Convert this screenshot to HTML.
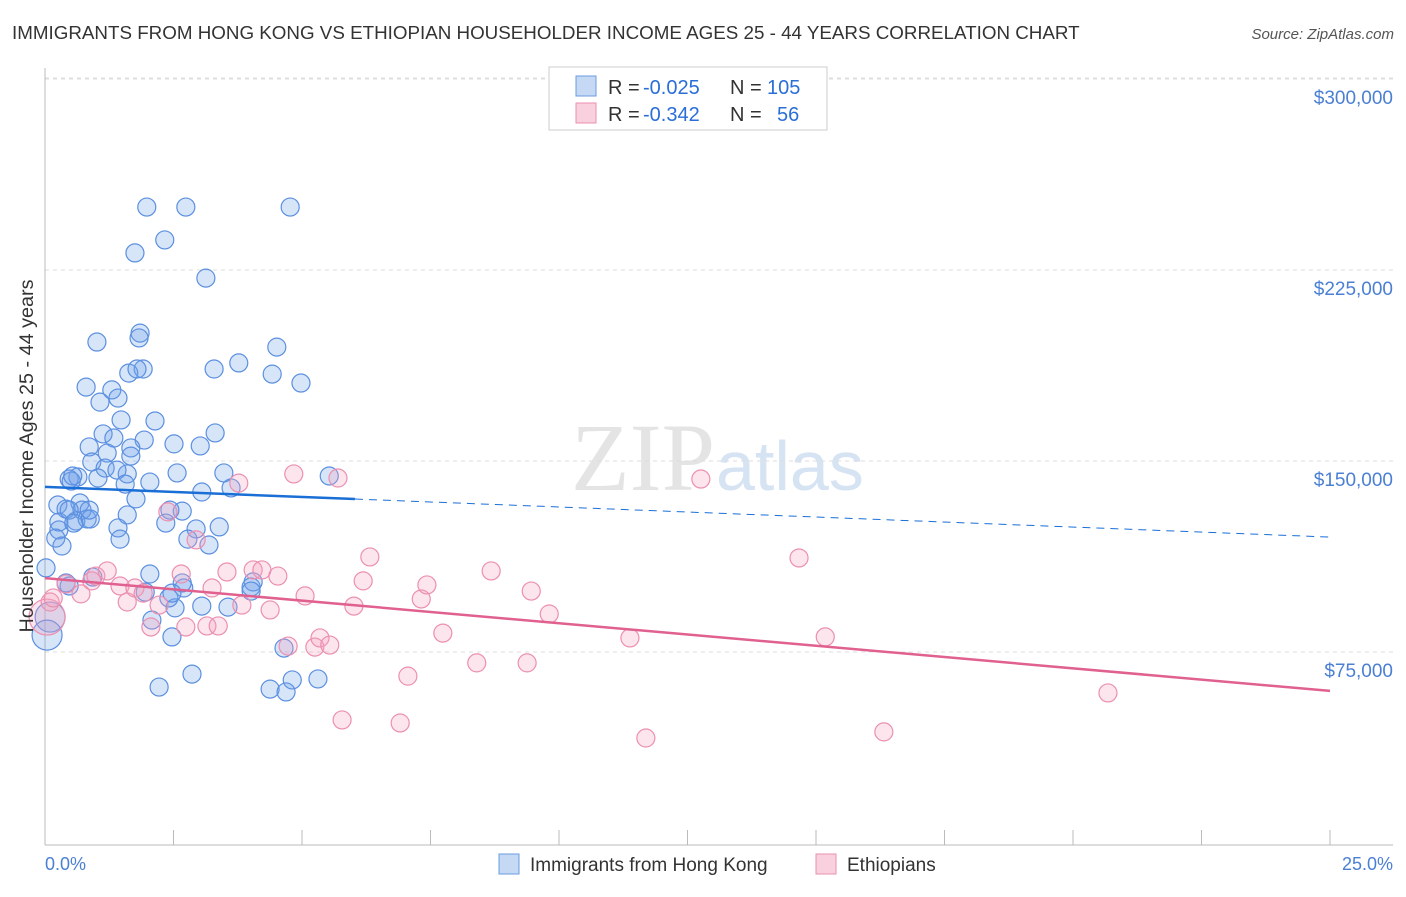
<!DOCTYPE html>
<html><head><meta charset="utf-8"><style>
body{margin:0;background:#fff;font-family:"Liberation Sans",sans-serif;}
</style></head><body>
<svg width="1406" height="892" xmlns="http://www.w3.org/2000/svg" id="chart">
<text x="12" y="39" font-size="18.8" fill="#333">IMMIGRANTS FROM HONG KONG VS ETHIOPIAN HOUSEHOLDER INCOME AGES 25 - 44 YEARS CORRELATION CHART</text>
<text x="1394" y="39" font-size="15" fill="#555" font-style="italic" text-anchor="end">Source: ZipAtlas.com</text>
<text x="715" y="490" font-size="96" fill="#e4e4e4" text-anchor="end" font-family="Liberation Serif">ZIP</text>
<text x="716" y="490" font-size="70" fill="#d5e3f3">atlas</text>
<g id="grid"></g>
<line x1="45" y1="68" x2="45" y2="845" stroke="#bbb"/>
<line x1="45" y1="845" x2="1393" y2="845" stroke="#bbb"/>
<g id="xticks"></g>
<g id="pts"></g>
<g id="lines"></g>
<text x="33" y="456" font-size="19.8" fill="#333" text-anchor="middle" transform="rotate(-90 33 456)">Householder Income Ages 25 - 44 years</text>
<text x="45" y="870" font-size="18" fill="#4a7fd4">0.0%</text>
<text x="1393" y="870" font-size="18" fill="#4a7fd4" text-anchor="end">25.0%</text>
<g>
<rect x="549" y="67" width="278" height="63" fill="#fff" stroke="#ccc"/>
<rect x="576" y="76" width="20" height="20" fill="#c5d9f5" stroke="#6a9be0"/>
<rect x="576" y="103" width="20" height="20" fill="#f9d0de" stroke="#ec8fb0"/>
<text y="94" font-size="20" fill="#333"><tspan x="608">R =</tspan><tspan x="643" fill="#2a6ed8">-0.025</tspan><tspan x="730">N =</tspan><tspan x="767" fill="#2a6ed8">105</tspan></text>
<text y="121" font-size="20" fill="#333"><tspan x="608">R =</tspan><tspan x="643" fill="#2a6ed8">-0.342</tspan><tspan x="730">N =</tspan><tspan x="777" fill="#2a6ed8">56</tspan></text>
</g>
<g>
<rect x="499" y="854" width="20" height="20" fill="#c5d9f5" stroke="#6a9be0"/>
<text x="530" y="871" font-size="19" fill="#333">Immigrants from Hong Kong</text>
<rect x="816" y="854" width="20" height="20" fill="#f9d0de" stroke="#ec8fb0"/>
<text x="847" y="871" font-size="19" fill="#333">Ethiopians</text>
</g>
</svg>
<script>
const yTicks=[75000,150000,225000,300000];
const yTickLabels=["$75,000","$150,000","$225,000","$300,000"];
const blueX=[1.98,2.74,4.77,2.33,1.75,3.13,1.01,1.85,1.83,4.51,3.77,1.91,1.63,3.29,4.42,4.98,0.80,1.30,1.07,1.42,2.14,1.48,1.13,0.86,1.34,1.93,2.51,3.31,3.02,1.67,1.21,1.67,0.91,1.17,0.64,1.03,1.60,1.40,3.48,5.53,0.47,0.51,1.56,2.04,2.57,0.54,3.05,3.62,1.77,0.68,0.25,0.41,0.27,0.60,0.72,0.82,0.88,0.47,0.86,1.60,2.67,2.43,0.27,0.21,0.02,0.33,0.56,2.35,2.94,3.39,1.42,1.46,2.78,3.19,0.93,2.04,0.47,2.70,2.67,0.41,4.05,4.01,3.56,2.53,1.95,2.08,3.05,2.41,2.47,4.01,2.47,4.65,4.81,2.86,2.22,4.38,4.69,5.31,0.10,0.04,1.79];
const blueY=[256.8,256.8,256.8,243.9,238.8,228.9,203.8,207.3,205.4,201.8,195.6,193.2,191.6,193.2,191.2,187.7,186.1,185.0,180.2,181.8,172.8,173.2,167.7,162.6,166.1,165.3,163.8,168.1,163.0,162.2,160.2,159.0,156.7,154.3,150.8,150.4,152.0,153.5,152.4,151.2,150.0,149.2,148.0,148.8,152.4,151.2,144.9,146.5,142.2,140.6,139.8,138.2,133.1,133.5,137.8,134.3,134.3,137.8,137.8,135.9,137.4,137.8,130.0,126.8,115.1,123.7,132.7,132.7,130.4,131.2,130.8,126.4,126.4,124.1,111.5,112.7,108.0,107.2,109.2,109.2,109.6,107.6,99.7,99.4,105.6,94.6,100.1,103.3,105.2,106.0,88.0,83.6,71.1,73.4,68.3,67.5,66.4,71.5,95.8,88.7,193.2];
const pinkX=[0.04,0.10,0.16,0.41,0.70,0.91,0.99,1.21,1.46,1.60,1.75,1.91,2.06,2.22,2.39,2.65,2.74,2.94,3.15,3.25,3.37,3.54,3.77,3.83,4.05,4.22,4.38,4.53,4.73,5.06,5.25,5.35,5.54,5.70,5.78,6.01,6.19,6.32,6.91,7.06,7.32,7.43,7.74,8.40,8.68,9.38,9.46,9.81,11.38,11.69,12.76,14.67,15.18,16.32,20.68,4.84];
const pinkY=[95.8,101.7,103.3,108.8,104.9,110.0,111.9,113.9,108.0,101.7,107.2,105.2,91.9,100.5,137.1,112.7,91.9,126.1,92.3,107.2,92.3,113.5,148.4,100.5,114.3,114.3,98.6,111.9,84.4,104.1,84.0,87.6,84.8,150.4,55.4,100.1,110.0,119.4,54.2,72.6,102.9,108.4,89.5,77.8,113.9,77.8,106.0,97.0,87.6,48.3,150.0,119.0,88.0,50.7,66.0,152.0];
const blueTrend=[146.9,127.2];
const pinkTrend=[111.1,66.8];
const blueSolidEnd=6.03;

const NS="http://www.w3.org/2000/svg";
function sx(p){return 45+p*51.4;}
function sy(k){return 861-k/0.3927;}
function mk(t,a,parent){const e=document.createElementNS(NS,t);for(const k in a)e.setAttribute(k,a[k]);parent.appendChild(e);return e;}
const grid=document.getElementById('grid');
yTicks.forEach((v,i)=>{
 const y=sy(v/1000);
 const l=mk('line',{x1:45,x2:1393,y1:y-18,y2:y-18,stroke:'#ddd','stroke-dasharray':'4,4'},grid);
 
 
 const t=mk('text',{x:1393,y:y+7,'font-size':19,fill:'#4a7fd4','text-anchor':'end'},grid);
 t.textContent=yTickLabels[i];
 
 
});
{const l=mk('line',{x1:45,x2:1393,y1:78,y2:78,stroke:'#ddd','stroke-dasharray':'4,4'},grid);
 
 }
const xt=document.getElementById('xticks');
for(let i=1;i<=10;i++){const x=sx(i*2.5);
 const l=mk('line',{x1:x,x2:x,y1:830,y2:845,stroke:'#bbb'},xt);
 
 }
const pts=document.getElementById('pts');
blueX.forEach((x,i)=>{
 const r=(i===blueX.length-3||i===blueX.length-2)?15:9;
 const c=mk('circle',{cx:sx(x),cy:sy(blueY[i]),r:r,fill:'rgba(110,160,235,0.28)',stroke:'#5b8fe0','stroke-width':1.2},pts);
 
 
});
pinkX.forEach((x,i)=>{
 const r=i===0?18:9;
 const c=mk('circle',{cx:sx(x),cy:sy(pinkY[i]),r:r,fill:'rgba(245,160,190,0.28)',stroke:'#ec8fb0','stroke-width':1.2},pts);
 
 
});
const lines=document.getElementById('lines');
function ty(tr,x){return tr[0]+(tr[1]-tr[0])*x/25;}
let l1=mk('line',{x1:sx(0),y1:sy(ty(blueTrend,0)),x2:sx(blueSolidEnd),y2:sy(ty(blueTrend,blueSolidEnd)),stroke:'#1a6fd6','stroke-width':2.5},lines);


let l2=mk('line',{x1:sx(blueSolidEnd),y1:sy(ty(blueTrend,blueSolidEnd)),x2:sx(25),y2:sy(ty(blueTrend,25)),stroke:'#1a6fd6','stroke-width':1,'stroke-dasharray':'8,6'},lines);


let l3=mk('line',{x1:sx(0),y1:sy(ty(pinkTrend,0)),x2:sx(25),y2:sy(ty(pinkTrend,25)),stroke:'#e0608f','stroke-width':2.5},lines);


</script>
</body></html>
